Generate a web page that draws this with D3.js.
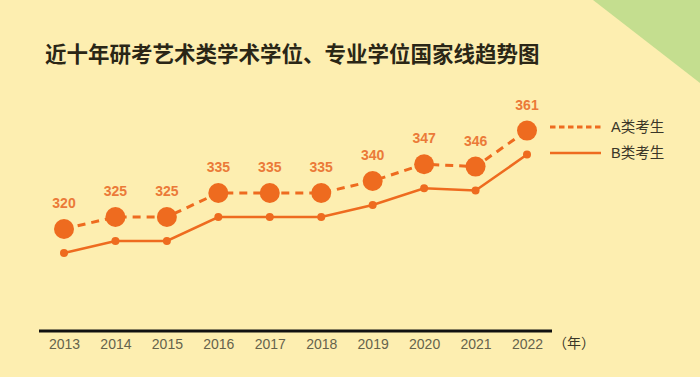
<!DOCTYPE html>
<html><head><meta charset="utf-8">
<script src="https://cdn.jsdelivr.net/npm/d3@7/dist/d3.min.js"></script>
<style>html,body{margin:0;padding:0;background:#fdeeb0;}svg{display:block;}</style>
</head><body>
<svg id="chart" width="700" height="377"></svg>
<script>
const years = ["2013","2014","2015","2016","2017","2018","2019","2020","2021","2022"];
const seriesA = [320,325,325,335,335,335,340,347,346,361];
const seriesB = [310,315,315,325,325,325,330,337,336,351];
const seriesNames = ["A类考生","B类考生"];
const title = "近十年研考艺术类学术学位、专业学位国家线趋势图";
const unitLabel = "（年）";

const svg = d3.select("#chart");
const W = 700, H = 377;
svg.append("rect").attr("width",W).attr("height",H).attr("fill","#fdeeb0");
svg.append("path").attr("d","M593,0L700,0L700,83Z").attr("fill","#c4de8f");

svg.append("text").attr("x",45).attr("y",62).text(title)
  .attr("font-family","'Noto Sans CJK SC'").attr("font-weight",700)
  .attr("font-size",21.5).attr("fill","#2a2616");

const x = d3.scalePoint().domain(years).range([64,527]);
const y = d3.scaleLinear().domain([325,335]).range([217,193]);
const orange = "#ee6b1f";

// axis
const axisG = svg.append("g").attr("transform","translate(0,331)");
axisG.append("line").attr("x1",39).attr("x2",552).attr("stroke","#111").attr("stroke-width",3);
const ax = d3.axisBottom(x).tickSize(0).tickPadding(6);
const axG = svg.append("g").attr("transform","translate(0,331)").call(ax);
axG.select(".domain").remove();
axG.selectAll("text").attr("font-family","Arial, 'Liberation Sans'").attr("font-size",14)
  .attr("fill","#65634c").attr("dy","0.85em");
svg.append("text").attr("x",553).attr("y",348).text(unitLabel)
  .attr("font-family","'Noto Sans CJK SC'").attr("font-size",14).attr("fill","#3a3628");

const line = d3.line().x((d,i)=>x(years[i])).y(d=>y(d));

svg.append("path").datum(seriesB).attr("d",line).attr("fill","none")
  .attr("stroke",orange).attr("stroke-width",2.5);
svg.selectAll("circle.b").data(seriesB).join("circle").attr("class","b")
  .attr("cx",(d,i)=>x(years[i])).attr("cy",d=>y(d)).attr("r",4).attr("fill",orange);

svg.append("path").datum(seriesA).attr("d",line).attr("fill","none")
  .attr("stroke",orange).attr("stroke-width",3).attr("stroke-dasharray","8,6");
svg.selectAll("circle.a").data(seriesA).join("circle").attr("class","a")
  .attr("cx",(d,i)=>x(years[i])).attr("cy",d=>y(d)).attr("r",10).attr("fill",orange);

svg.selectAll("text.lab").data(seriesA).join("text").attr("class","lab")
  .attr("x",(d,i)=>x(years[i])).attr("y",d=>y(d)-21).attr("text-anchor","middle")
  .attr("font-family","Arial, 'Liberation Sans'").attr("font-weight",700).attr("font-size",14)
  .attr("fill","#eb7a38").text(d=>d);

// legend
const leg = svg.append("g");
[0,1].forEach(k=>{
  const ly = 127 + k*26;
  leg.append("line").attr("x1",550).attr("x2",601).attr("y1",ly).attr("y2",ly)
    .attr("stroke",orange).attr("stroke-width",k===0?3:2.5)
    .attr("stroke-dasharray",k===0?"5.5,3.5":null);
  leg.append("text").attr("x",611).attr("y",ly+5).text(seriesNames[k])
    .attr("font-family","Arial, 'Noto Sans CJK SC'").attr("font-size",14.5).attr("fill","#3a3628");
});
</script>
</body></html>
